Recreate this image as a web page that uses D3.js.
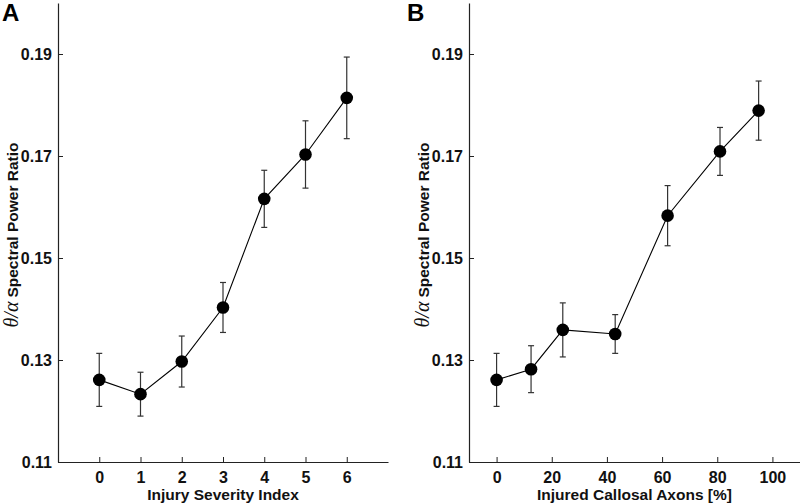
<!DOCTYPE html>
<html>
<head>
<meta charset="utf-8">
<script src="https://cdn.jsdelivr.net/npm/d3@7"></script>
<style>
  body { margin: 0; background: #fff; }
  svg { display: block; font-family: "Liberation Sans", Arial, sans-serif; }
</style>
</head>
<body>
<svg id="chart" width="800" height="504"></svg>
<script>
// ---- data ----
const severityIndex = [0, 1, 2, 3, 4, 5, 6];
const severityMean  = [0.1261, 0.1233, 0.1297, 0.1403, 0.1616, 0.1703, 0.1814];
const severityErr   = [0.0052, 0.0043, 0.0050, 0.0049, 0.0056, 0.0066, 0.0080];

const axonPercent = [0, 12.5, 24, 43, 62, 81, 95];
const axonMean    = [0.1261, 0.1282, 0.1359, 0.1351, 0.1583, 0.1709, 0.1789];
const axonErr     = [0.0052, 0.0046, 0.0053, 0.0038, 0.0059, 0.0047, 0.0058];

const yTicks = [0.11, 0.13, 0.15, 0.17, 0.19];
const xTicksA = [0, 1, 2, 3, 4, 5, 6];
const xTicksB = [0, 20, 40, 60, 80, 100];

const svg = d3.select("#chart");

function panel(opts) {
  const g = svg.append("g");
  const x = d3.scaleLinear().domain(opts.xDomain).range(opts.xRange);
  const y = d3.scaleLinear().domain([0.11, 0.20]).range([462, 3]);

  // axes
  const ya = g.append("g").attr("transform", `translate(${opts.xRange[0]},0)`)
    .call(d3.axisLeft(y).tickValues(yTicks).tickFormat(d3.format(".2f"))
      .tickSizeInner(-5).tickSizeOuter(0).tickPadding(6));
  const xa = g.append("g").attr("transform", `translate(0,462)`)
    .call(d3.axisBottom(x).tickValues(opts.xTicks).tickFormat(d3.format("d"))
      .tickSizeInner(-5).tickSizeOuter(0).tickPadding(10));
  [ya, xa].forEach(a => {
    a.select(".domain").attr("stroke", "#222").attr("stroke-width", 1.2);
    a.selectAll(".tick line").attr("stroke", "#222").attr("stroke-width", 1);
    a.selectAll(".tick text").attr("fill", "#111")
      .style("font-size", "16px").style("font-weight", "bold")
      .style("font-family", "'Liberation Sans', Arial, sans-serif");
  });

  const data = opts.xs.map((v, i) => ({x: v, m: opts.means[i], e: opts.errs[i]}));

  // error bars
  const eb = g.append("g").attr("stroke", "#333").attr("stroke-width", 1.2);
  data.forEach(d => {
    const cx = x(d.x), y1 = y(d.m + d.e), y2 = y(d.m - d.e);
    eb.append("line").attr("x1", cx).attr("x2", cx).attr("y1", y1).attr("y2", y2);
    eb.append("line").attr("x1", cx - 3).attr("x2", cx + 3).attr("y1", y1).attr("y2", y1);
    eb.append("line").attr("x1", cx - 3).attr("x2", cx + 3).attr("y1", y2).attr("y2", y2);
  });

  // line
  g.append("path").datum(data)
    .attr("fill", "none").attr("stroke", "#000").attr("stroke-width", 1.1)
    .attr("d", d3.line().x(d => x(d.x)).y(d => y(d.m)));

  // markers
  g.selectAll("circle.pt").data(data).join("circle")
    .attr("cx", d => x(d.x)).attr("cy", d => y(d.m)).attr("r", 6.3).attr("fill", "#000");

  // x label
  g.append("text").attr("x", (opts.xRange[0] + opts.xRange[1]) / 2).attr("y", 500)
    .attr("text-anchor", "middle").style("font-size", "15.5px").style("font-weight", "bold")
    .attr("fill", "#111").text(opts.xLabel);

  // y label
  const yl = g.append("text")
    .attr("transform", `translate(${opts.yLabelX},235) rotate(-90)`)
    .attr("text-anchor", "middle").attr("fill", "#111");
  yl.append("tspan").style("font-family", "'Liberation Serif', 'Times New Roman', serif")
    .style("font-style", "italic").style("font-size", "20px").text("θ/α");
  yl.append("tspan").attr("dx", 4).style("font-size", "15.5px").style("font-weight", "bold")
    .text("Spectral Power Ratio");

  // panel letter
  g.append("text").attr("x", opts.letterX).attr("y", 21)
    .style("font-size", "24px").style("font-weight", "bold").attr("fill", "#000").text(opts.letter);
}

panel({
  xs: severityIndex, means: severityMean, errs: severityErr,
  xDomain: [-1, 7], xRange: [58, 388], xTicks: xTicksA,
  xLabel: "Injury Severity Index", yLabelX: 18, letter: "A", letterX: 2
});
panel({
  xs: axonPercent, means: axonMean, errs: axonErr,
  xDomain: [-10, 110], xRange: [469, 800], xTicks: xTicksB,
  xLabel: "Injured Callosal Axons [%]", yLabelX: 429, letter: "B", letterX: 407
});
</script>
</body>
</html>
